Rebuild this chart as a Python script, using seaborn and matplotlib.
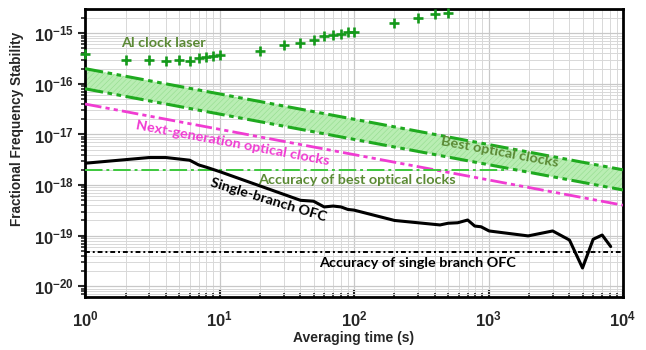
import numpy as np
import pandas as pd
import matplotlib
matplotlib.use("Agg")
import matplotlib.pyplot as plt
import seaborn as sns
from matplotlib.ticker import FixedLocator, FuncFormatter, NullFormatter

# ---------------- data ----------------
al_tau = [1, 2, 3, 4, 5, 6, 7, 8, 9, 10, 20, 30, 40, 50, 60, 70, 80, 90, 100,
          200, 300, 400, 500]
al_val = [3.97e-16, 3.02e-16, 3.02e-16, 2.84e-16, 3.02e-16, 2.84e-16, 3.31e-16,
          3.4e-16, 3.51e-16, 3.67e-16, 4.47e-16, 5.79e-16, 6.43e-16, 7.27e-16,
          8.73e-16, 9.13e-16, 9.87e-16, 1.06e-15, 1.06e-15, 1.63e-15, 2.0e-15,
          2.37e-15, 2.56e-15]

ofc_tau = [1, 3, 4, 6, 7, 8, 10, 40, 50, 60, 70, 80, 90, 100, 200, 436, 500,
           590, 700, 790, 880, 1010, 1970, 3000, 4000, 5000, 6000, 7000, 8100]
ofc_val = [2.7e-18, 3.5e-18, 3.5e-18, 3.1e-18, 2.5e-18, 2.25e-18, 1.85e-18,
           5.0e-19, 4.8e-19, 3.7e-19, 3.85e-19, 3.7e-19, 3.3e-19, 3.2e-19,
           2.0e-19, 1.63e-19, 1.76e-19, 1.8e-19, 2.04e-19, 1.55e-19, 1.5e-19,
           1.24e-19, 0.99e-19, 1.24e-19, 8.2e-20, 2.3e-20, 8.5e-20, 1.03e-19,
           6.1e-20]

band_tau = [1, 1e4]
best_upper = [2.0e-16, 2.0e-18]
best_lower = [8.0e-17, 8.0e-19]
nextgen_tau = [1, 1e4]
nextgen_val = [4.0e-17, 4.0e-19]

acc_best_tau = [1, 1400]
acc_best_val = [2.0e-18, 2.0e-18]
acc_ofc_tau = [1, 1e4]
acc_ofc_val = [4.7e-20, 4.7e-20]

x_ticks = [1, 10, 100, 1000, 10000]
y_ticks = [1e-20, 1e-19, 1e-18, 1e-17, 1e-16, 1e-15]

# ---------------- style ----------------
sns.set_style("white")
plt.rcParams['font.family'] = ['Liberation Sans', 'DejaVu Sans']
plt.rcParams['mathtext.fontset'] = 'custom'
plt.rcParams['mathtext.bf'] = 'Liberation Sans:bold'
plt.rcParams['mathtext.rm'] = 'Liberation Sans'
plt.rcParams['hatch.linewidth'] = 0.4
plt.rcParams['hatch.color'] = '#94dc8e'

GREEN = '#1faa1f'
OLIVE = '#5b8a35'
MAGENTA = '#f03cd2'

fig = plt.figure(figsize=(6.46, 3.5), dpi=100)
ax = fig.add_axes([0.1316, 0.152, 0.8328, 0.822])

ax.set_xscale('log')
ax.set_yscale('log')
ax.set_xlim(1, 1e4)
ax.set_ylim(6.2e-21, 3.0e-15)

# band
ax.fill_between(band_tau, best_lower, best_upper, facecolor='#b9edb3',
                hatch='//////', edgecolor='#94dc8e', linewidth=0, zorder=2)

dd = (0, (6, 1.5, 1.5, 1.5, 1.5, 1.5))
sns.lineplot(x=band_tau, y=best_upper, ax=ax, color=GREEN, lw=2.2, zorder=3)
ax.lines[-1].set_linestyle(dd)
sns.lineplot(x=band_tau, y=best_lower, ax=ax, color=GREEN, lw=2.2, zorder=3)
ax.lines[-1].set_linestyle(dd)
sns.lineplot(x=nextgen_tau, y=nextgen_val, ax=ax, color=MAGENTA, lw=2.0, zorder=3)
ax.lines[-1].set_linestyle(dd)
sns.lineplot(x=acc_best_tau, y=acc_best_val, ax=ax, color='#3cc83c', lw=1.4, zorder=3)
ax.lines[-1].set_linestyle((0, (9, 2, 1.5, 2)))
sns.lineplot(x=acc_ofc_tau, y=acc_ofc_val, ax=ax, color='black', lw=1.4, zorder=3)
ax.lines[-1].set_linestyle((0, (2.5, 1.5, 1, 1.5)))

sns.lineplot(x=ofc_tau, y=ofc_val, ax=ax, color='black', lw=2.2, sort=False,
             estimator=None, zorder=4)

sns.scatterplot(x=al_tau, y=al_val, ax=ax, marker='+', s=60, color='#14991a',
                linewidth=1.9, zorder=5, clip_on=False)

# ---------------- axes cosmetics ----------------
ax.xaxis.set_major_locator(FixedLocator(x_ticks))
ax.yaxis.set_major_locator(FixedLocator(y_ticks))
x_minor = [m * d for d in x_ticks[:-1] for m in range(2, 10)]
y_minor = [m * d for d in [1e-21] + y_ticks for m in range(2, 10)]
y_minor = [v for v in y_minor if 6.2e-21 <= v <= 3.0e-15]
ax.xaxis.set_minor_locator(FixedLocator(x_minor))
ax.yaxis.set_minor_locator(FixedLocator(y_minor))
fmt = FuncFormatter(lambda v, p: r'$\mathbf{10^{%d}}$' % int(round(np.log10(v))))
ax.xaxis.set_major_formatter(fmt)
ax.yaxis.set_major_formatter(fmt)
ax.xaxis.set_minor_formatter(NullFormatter())
ax.yaxis.set_minor_formatter(NullFormatter())

ax.grid(which='major', color='#c8c8c8', lw=0.9, zorder=0)
ax.grid(which='minor', color='#d8d8d8', lw=0.7, zorder=0)
ax.set_axisbelow(True)

for s in ax.spines.values():
    s.set_color('black')
    s.set_linewidth(2)

ax.tick_params(axis='x', which='major', direction='in', length=5, width=1.5,
               labelsize=12, pad=9, bottom=True, top=False)
ax.tick_params(axis='x', which='minor', direction='in', length=3, width=1.2,
               bottom=True, top=False)
ax.tick_params(axis='y', which='major', direction='out', length=5, width=1.5,
               labelsize=12, pad=3, left=True, right=False)
ax.tick_params(axis='y', which='minor', direction='out', length=3, width=1.2,
               left=True, right=False)

ax.set_xlabel('Averaging time (s)', fontsize=10, fontweight='bold')
ax.xaxis.set_label_coords(0.5, -0.118)
ax.set_ylabel('Fractional Frequency Stability', fontsize=9.8, fontweight='bold')
ax.yaxis.set_label_coords(-0.113, 0.583)

# ---------------- annotations ----------------
tf = ['Lato', 'DejaVu Sans']
fs = 10.4
ax.text(3.8, 6.3e-16, 'Al clock laser', color=OLIVE, fontsize=fs,
        fontweight='bold', family=tf, ha='center', va='center', zorder=6)
ax.text(12.6, 6.7e-18, 'Next-generation optical clocks', color=MAGENTA,
        fontsize=fs, fontweight='bold', family=tf, ha='center', va='center',
        rotation=-10.6, rotation_mode='anchor', zorder=6)
ax.text(1217, 4.4e-18, 'Best optical clocks', color=OLIVE, fontsize=fs,
        fontweight='bold', family=tf, ha='center', va='center',
        rotation=-10.6, rotation_mode='anchor', zorder=6)
ax.text(105, 1.24e-18, 'Accuracy of best optical clocks', color=OLIVE,
        fontsize=fs, fontweight='bold', family=tf, ha='center', va='center',
        zorder=6)
ax.text(23.3, 5.0e-19, 'Single-branch OFC', color='black', fontsize=fs,
        fontweight='bold', family=tf, ha='center', va='center',
        rotation=-17, rotation_mode='anchor', zorder=6)
ax.text(299, 2.85e-20, 'Accuracy of single branch OFC', color='black',
        fontsize=fs, fontweight='bold', family=tf, ha='center', va='center',
        zorder=6)

fig.savefig('out.png', dpi=100)
